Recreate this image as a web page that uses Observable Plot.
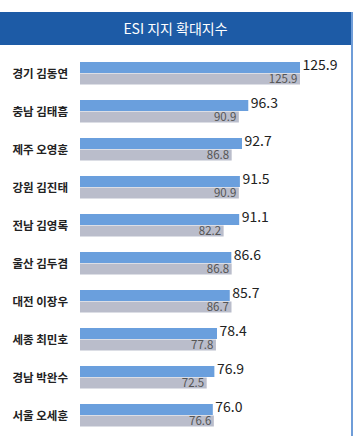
<!DOCTYPE html>
<html><head><meta charset="utf-8">
<script src="https://cdn.jsdelivr.net/npm/d3@7"></script>
<script src="https://cdn.jsdelivr.net/npm/@observablehq/plot@0.6"></script>
<style>
body{margin:0;background:#fff;font-family:"Noto Sans CJK KR","Noto Sans",sans-serif;}
#wrap{position:relative;width:351px;margin-top:12px;border-right:2px solid #6f9dd8;}
#hdr{height:33px;line-height:33px;background:#1d5ba6;color:#fff;text-align:center;font-size:14px;}
svg{display:block;}
</style></head><body>
<div id="wrap"><div id="hdr">ESI 지지 확대지수</div><div id="chart"></div></div>
<script>
const names = ["경기 김동연","충남 김태흠","제주 오영훈","강원 김진태","전남 김영록","울산 김두겸","대전 이장우","세종 최민호","경남 박완수","서울 오세훈"];
const esi = [125.9,96.3,92.7,91.5,91.1,86.6,85.7,78.4,76.9,76.0];
const other = [125.9,90.9,86.8,90.9,82.2,86.8,86.7,77.8,72.5,76.6];

const data = names.map((n,i)=>({name:n, esi:esi[i], other:other[i]}));

const chart = Plot.plot({
  width: 351, height: 391,
  marginLeft: 80, marginRight: 51, marginTop: 7, marginBottom: 1,
  style: {fontFamily: '"Noto Sans CJK KR","Noto Sans",sans-serif', background: "#fff"},
  x: {domain: [0, 125.9], axis: null},
  y: {domain: names, padding: 0, label: null},
  marks: [
    Plot.barX(data, {y: "name", x: "other", fill: "#babdcb", insetTop: 19.5, insetBottom: 7.5}),
    Plot.barX(data, {y: "name", x: "esi", fill: "#6a9fdd", insetTop: 8, insetBottom: 19}),
    Plot.text(data, {y: "name", x: "esi", text: d => d.esi.toFixed(1), textAnchor: "start", dx: 2, dy: -8, fontSize: 14, fill: "#222"}),
    Plot.text(data, {y: "name", x: "other", text: d => d.other.toFixed(1), textAnchor: "end", dx: -3, dy: 5.5, fontSize: 11.5, fill: "#555"}),
    Plot.axisY({tickSize: 0, tickPadding: 0, textAnchor: "start", dx: -68, dy: 1, fontWeight: "bold", fontSize: 11.5, fill: "#222", label: null})
  ]
});
document.getElementById("chart").appendChild(chart);
</script>
</body></html>
